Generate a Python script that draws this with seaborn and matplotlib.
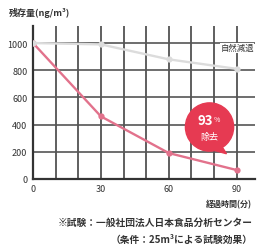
import matplotlib
matplotlib.use("Agg")
import matplotlib.pyplot as plt
import seaborn as sns
import pandas as pd
from matplotlib.patches import Ellipse, Polygon

# data
minutes = [0, 30, 60, 90]
treated = [1000, 460, 190, 65]
natural = [1000, 990, 880, 810]
y_ticks = [0, 200, 400, 600, 800, 1000]
x_ticks = [0, 30, 60, 90]
x_grid = [10, 20, 30, 40, 50, 60, 70, 80, 90]

sns.set_theme(style="white")
plt.rcParams['font.family'] = ['Noto Sans CJK JP', 'DejaVu Sans']

df = pd.DataFrame({"min": minutes * 2,
                   "val": treated + natural,
                   "kind": ["treated"] * 4 + ["natural"] * 4})

fig = plt.figure(figsize=(2.6, 2.53), dpi=100)
ax = fig.add_axes([0.127, 0.289, 0.853, 0.604])

ax.set_xlim(0, 98)
ax.set_ylim(0, 1125)

# grid
ax.vlines(x_grid, 0, 1125, colors="#444444", linewidth=1.2, zorder=2)
ax.hlines(y_ticks[1:], 0, 98, colors="#555555", linewidth=1.2, zorder=2)

sns.lineplot(data=df, x="min", y="val", hue="kind",
             palette={"treated": "#e2728c", "natural": "#dcdcdc"},
             marker="o", markersize=4.5, markeredgewidth=0, lw=1.7,
             legend=False, ax=ax, zorder=3)

ax.set_xlim(0, 98)
ax.set_ylim(0, 1125)
ax.set_xticks(x_ticks)
ax.set_yticks(y_ticks)

# "93% 除去" bubble
ax.add_patch(Polygon([[83, 250], [85.5, 185], [79, 215]], closed=True,
                     color="#e63a52", zorder=4))
ax.add_patch(Ellipse((78, 382), 21.3, 355, color="#e63a52", zorder=4))
ax.text(79.5, 430, "93", color="white", fontsize=9.5, fontweight="bold",
        ha="right", va="center", zorder=5)
ax.text(79.8, 440, "%", color="white", fontsize=5, ha="left", va="center", zorder=5)
ax.text(78, 315, "除去", color="white", fontsize=6.5, ha="center", va="center", zorder=5)
ax.text(97.5, 965, "自然減退", color="#333333", fontsize=6, ha="right", va="center", zorder=5,
        bbox=dict(facecolor="white", edgecolor="none", pad=0.5))

ax.tick_params(which="both", labelsize=6.5, colors="#333333", length=0, pad=4)
ax.set_xlabel("")
ax.set_ylabel("")
for s in ["top", "right"]:
    ax.spines[s].set_visible(False)
ax.spines["left"].set_color("#333333")
ax.spines["left"].set_linewidth(1.6)
ax.spines["bottom"].set_color("#333333")
ax.spines["bottom"].set_linewidth(1.6)

fig.text(0.035, 0.95, "残存量(ng/m³)", fontsize=6.5, fontweight="bold", color="#333333", va="center")
fig.text(0.97, 0.19, "経過時間(分)", fontsize=5.8, fontweight="bold", color="#333333", ha="right", va="center")
fig.text(0.97, 0.118, "※試験：一般社団法人日本食品分析センター", fontsize=7, fontweight="bold", color="#333333", ha="right", va="center")
fig.text(0.97, 0.051, "（条件：25m³による試験効果）", fontsize=7, fontweight="bold", color="#333333", ha="right", va="center")

fig.savefig("out.png", dpi=100, facecolor="white")
